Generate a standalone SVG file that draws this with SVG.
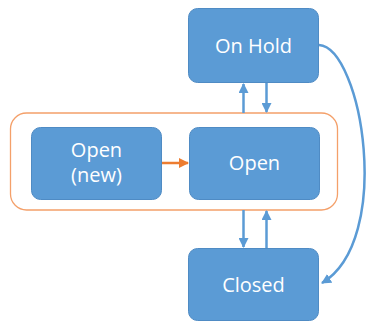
<svg xmlns="http://www.w3.org/2000/svg" width="366" height="322" viewBox="0 0 366 322">
<style>
.box{fill:#5B9BD5;stroke:#4F8BC4;stroke-width:1}
.lbl{font-family:"Open Sans","Noto Sans",sans-serif;font-size:20px;fill:#FFFFFF;text-anchor:middle}
.blue{stroke:#5B9BD5;stroke-width:2.5;fill:none}
.orange{stroke:#ED7D31;stroke-width:2.5;fill:none}
</style>
<defs>
<marker id="ab" viewBox="0 0 10 10" refX="9" refY="5" markerWidth="4" markerHeight="4" orient="auto" markerUnits="strokeWidth">
<path d="M0,0 L10,5 L0,10 z" fill="#5B9BD5"/>
</marker>
<marker id="ao" viewBox="0 0 10 10" refX="9" refY="5" markerWidth="4" markerHeight="4" orient="auto" markerUnits="strokeWidth">
<path d="M0,0 L10,5 L0,10 z" fill="#ED7D31"/>
</marker>
</defs>
<g id="group-open">
<rect x="10.5" y="113" width="327" height="97" rx="16" fill="#FFFFFF" stroke="#F4A06A" stroke-width="1.3"/>
</g>
<g id="node-onhold">
<rect class="box" x="188.5" y="8.5" width="130" height="74" rx="9"/>
<text class="lbl" x="253.5" y="53">On Hold</text>
</g>
<g id="node-opennew">
<rect class="box" x="31.5" y="127.5" width="130" height="72" rx="9"/>
<text class="lbl" x="96.5" y="157">Open</text>
<text class="lbl" x="96.5" y="182">(new)</text>
</g>
<g id="node-open">
<rect class="box" x="189.5" y="127.5" width="130" height="72" rx="9"/>
<text class="lbl" x="254.5" y="170">Open</text>
</g>
<g id="node-closed">
<rect class="box" x="188.5" y="248.5" width="130" height="72" rx="9"/>
<text class="lbl" x="253.5" y="292">Closed</text>
</g>
<g id="connectors">
<line class="orange" x1="162" y1="163" x2="188" y2="163" marker-end="url(#ao)"/>
<line class="blue" x1="243.5" y1="113" x2="243.5" y2="84" marker-end="url(#ab)"/>
<line class="blue" x1="266.5" y1="83" x2="266.5" y2="112" marker-end="url(#ab)"/>
<line class="blue" x1="243.5" y1="210" x2="243.5" y2="247" marker-end="url(#ab)"/>
<line class="blue" x1="266.5" y1="248" x2="266.5" y2="211" marker-end="url(#ab)"/>
<path class="blue" d="M319,45 C362,48 394,240 322,283" marker-end="url(#ab)"/>
</g>
</svg>
